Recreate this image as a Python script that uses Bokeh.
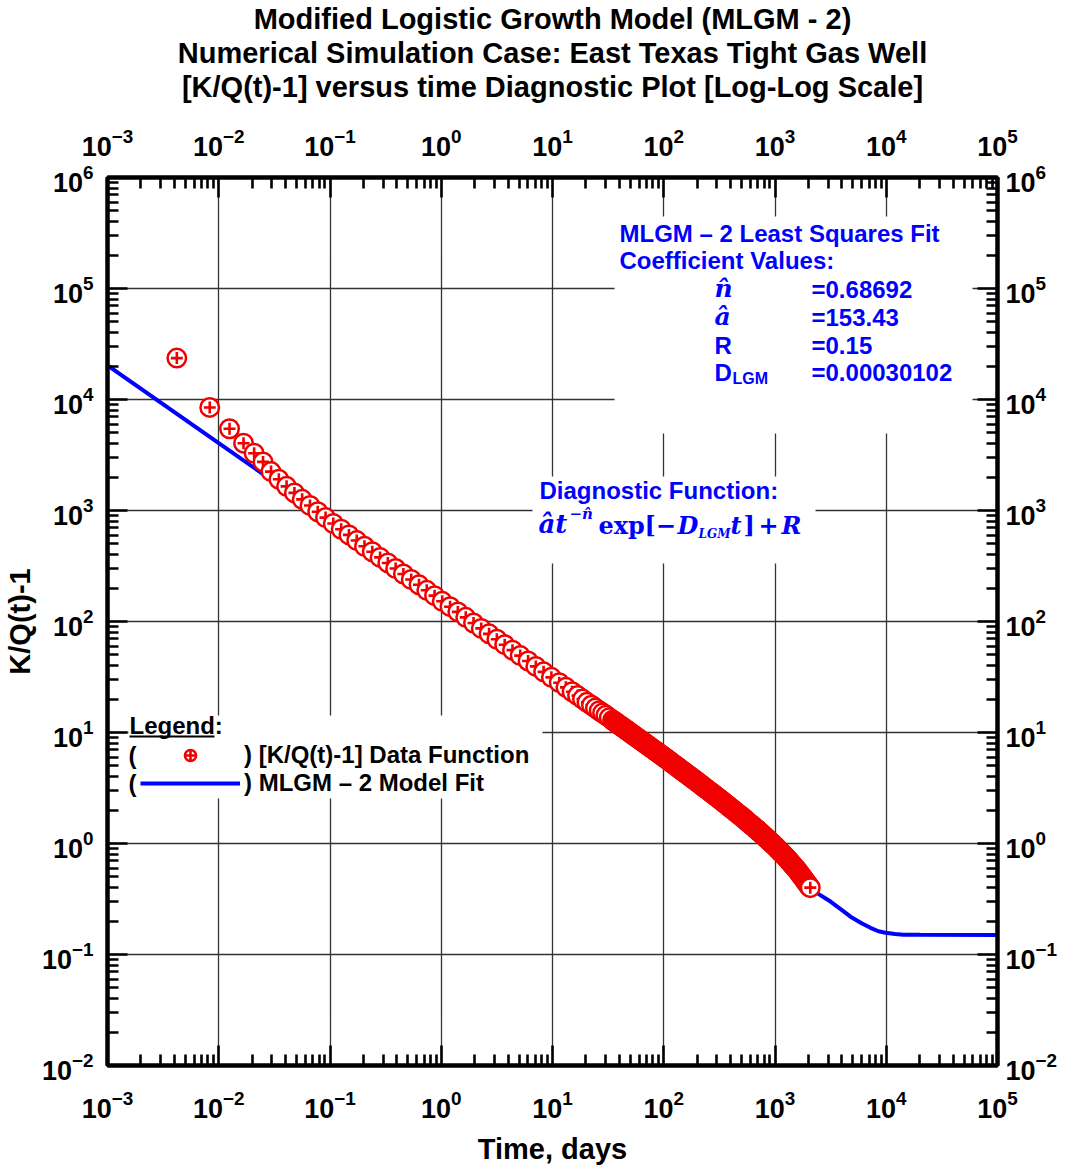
import numpy as np
from bokeh.plotting import figure
from bokeh.models import (Range1d, LogAxis, FixedTicker, Label, BoxAnnotation, Legend, LegendItem,
                          LogTickFormatter, Title)
from bokeh.embed import file_html
from bokeh.resources import INLINE

# ---------------- data ----------------
data_t = [0.0042, 0.0083, 0.0125, 0.0167, 0.0208, 0.025, 0.0295, 0.0347, 0.0407, 0.0479,
          0.0562, 0.0661, 0.0776, 0.0912, 0.107, 0.126, 0.148, 0.174, 0.204, 0.240,
          0.282, 0.331, 0.389, 0.457, 0.537, 0.631, 0.741, 0.871, 1.02, 1.20,
          1.41, 1.66, 1.95, 2.29, 2.69, 3.16, 3.72, 4.37, 5.13, 6.03,
          7.08, 8.32, 9.77, 11.5, 13.2, 15.0, 16.8, 18.6, 20.4, 22.4,
          24.3, 26.3, 28.2, 30.2, 32.4,
          34.7, 35.5, 36.3, 37.2, 38.0, 38.9, 39.8, 40.7, 41.7, 42.7,
          43.7, 44.7, 45.7, 46.8, 47.9, 49.0, 50.1, 51.3, 52.5, 53.7,
          55.0, 56.2, 57.5, 58.9, 60.3, 61.7, 63.1, 64.6, 66.1, 67.6,
          69.2, 70.8, 72.4, 74.1, 75.9, 77.6, 79.4, 81.3, 83.2, 85.1,
          87.1, 89.1, 91.2, 93.3, 95.5, 97.7,
          100, 102, 105, 107, 110, 112, 115, 117, 120, 123,
          126, 129, 132, 135, 138, 141, 145, 148, 151, 155,
          158, 162, 166, 170, 174, 178, 182, 186, 191, 195,
          200, 204, 209, 214, 219, 224, 229, 234, 240, 245,
          251, 257, 263, 269, 275, 282, 288, 295, 302, 309,
          316, 324, 331, 339, 347, 355, 363, 372, 380, 389,
          398, 407, 417, 427, 437, 447, 457, 468, 479, 490,
          501, 513, 525, 537, 550, 562, 575, 589, 603, 617,
          631, 646, 661, 676, 692, 708, 724, 741, 759, 776,
          794, 813, 832, 851, 871, 891, 912, 933, 955, 977,
          1000, 1023, 1047, 1072, 1096, 1122, 1148, 1175, 1202, 1230,
          1259, 1288, 1318, 1349, 1380, 1413, 1445, 1479, 1514, 1549,
          1585, 1622, 1660, 1698, 1738, 1778, 1820, 1862, 1905, 1950,
          1995, 2042, 2075]
data_y = [23600, 8480, 5450, 4040, 3280, 2740, 2240, 1910, 1650, 1440,
          1260, 1110, 975, 863, 764, 678, 603, 536, 476, 425,
          378, 337, 300, 268, 239, 214, 191, 171, 152, 136,
          122, 109, 97.0, 86.7, 77.4, 69.2, 61.8, 55.2, 49.3, 44.1,
          39.4, 35.2, 31.4, 28.1, 25.5, 23.3, 21.5, 20.0, 18.7, 17.6,
          16.6, 15.7, 15.0, 14.3, 13.6,
          12.9, 12.73, 12.5, 12.31, 12.1, 11.91, 11.7, 11.53, 11.3, 11.15,
          11.0, 10.78, 10.6, 10.43, 10.3, 10.09, 9.93, 9.76, 9.60, 9.45,
          9.29, 9.14, 8.99, 8.84, 8.70, 8.55, 8.41, 8.27, 8.14, 8.00,
          7.87, 7.74, 7.61, 7.49, 7.37, 7.24, 7.13, 7.01, 6.89, 6.78,
          6.67, 6.56, 6.45, 6.35, 6.24, 6.14,
          6.04, 5.93, 5.83, 5.73, 5.64, 5.54, 5.45, 5.35, 5.26, 5.17,
          5.08, 4.99, 4.91, 4.82, 4.74, 4.66, 4.58, 4.50, 4.43, 4.35,
          4.28, 4.20, 4.13, 4.06, 3.99, 3.92, 3.85, 3.79, 3.72, 3.66,
          3.60, 3.53, 3.47, 3.41, 3.35, 3.29, 3.23, 3.18, 3.12, 3.07,
          3.01, 2.96, 2.91, 2.86, 2.81, 2.76, 2.71, 2.66, 2.62, 2.57,
          2.52, 2.48, 2.43, 2.39, 2.34, 2.30, 2.26, 2.22, 2.18, 2.14,
          2.10, 2.06, 2.02, 1.99, 1.95, 1.91, 1.88, 1.84, 1.81, 1.78,
          1.75, 1.71, 1.68, 1.65, 1.61, 1.58, 1.55, 1.52, 1.49, 1.46,
          1.44, 1.41, 1.38, 1.35, 1.33, 1.30, 1.27, 1.25, 1.22, 1.20,
          1.17, 1.15, 1.12, 1.10, 1.08, 1.05, 1.03, 1.01, 0.988, 0.967,
          0.947, 0.925, 0.904, 0.882, 0.862, 0.842, 0.823, 0.803, 0.785, 0.766,
          0.749, 0.729, 0.710, 0.692, 0.674, 0.656, 0.639, 0.622, 0.606, 0.590,
          0.575, 0.557, 0.540, 0.523, 0.508, 0.492, 0.477, 0.462, 0.448, 0.434,
          0.421, 0.408, 0.400]

model_t = [0.001, 0.01, 0.1, 1, 10, 34.7, 100, 200, 316, 501, 692, 1000, 1259, 1585, 2075,
           2410, 3155, 4000, 4775, 6000, 7210, 8500, 9840, 12000, 14300, 20000, 100000]
model_y = [20300, 4040, 810, 155, 31.4, 12.9, 6.04, 3.60, 2.52, 1.75, 1.33, 0.947, 0.749, 0.575, 0.395,
           0.355, 0.300, 0.251, 0.219, 0.191, 0.174, 0.162, 0.157, 0.153, 0.151, 0.1503, 0.150]

x_exps = [-3, -2, -1, 0, 1, 2, 3, 4, 5]
y_exps = [-2, -1, 0, 1, 2, 3, 4, 5, 6]

title_lines = ["Modified Logistic Growth Model (MLGM - 2)",
               "Numerical Simulation Case: East Texas Tight Gas Well",
               "[K/Q(t)-1] versus time Diagnostic Plot [Log-Log Scale]"]
x_title = "Time, days"
y_title = "K/Q(t)-1"
coef_names = ["n\u0302", "\u00e2", "R", "D"]
coef_values = ["=0.68692", "=153.43", "=0.15", "=0.00030102"]

# ---------------- styling ----------------
SANS = "Liberation Sans"
SERIF = "DejaVu Serif"
RED = "#F00000"
BLUE = "#0000FF"
FL, FR, FT, FB = 107, 997, 177, 1065   # frame edges in canvas pixels
W, H = 1070, 1168

p = figure(frame_width=FR - FL, frame_height=FB - FT, x_axis_type="log", y_axis_type="log",
           x_range=Range1d(1e-3, 1e5), y_range=Range1d(1e-2, 1e6),
           min_border_left=FL, min_border_right=W - FR, min_border_top=FT, min_border_bottom=H - FB,
           output_backend="svg", toolbar_location=None)
p.background_fill_color = "white"
p.border_fill_color = "white"
p.outline_line_color = "black"
p.outline_line_width = 4

p.add_layout(LogAxis(), "above")
p.add_layout(LogAxis(), "right")

# three centred title lines, added from the one nearest the plot outward
for line in reversed(title_lines):
    p.add_layout(Title(text=line, align="center", text_font=SANS, text_font_size="29px",
                       text_font_style="bold", text_color="black", standoff=-0.5), "above")

xmaj = [10.0 ** e for e in x_exps]
ymaj = [10.0 ** e for e in y_exps]
xmin = [m * v for v in xmaj[:-1] for m in range(2, 10)]
ymin = [m * v for v in ymaj[:-1] for m in range(2, 10)]
xtick = FixedTicker(ticks=xmaj, minor_ticks=xmin)
ytick = FixedTicker(ticks=ymaj, minor_ticks=ymin)

for ax in p.above + p.below:
    if isinstance(ax, LogAxis):
        ax.ticker = xtick
for ax in p.left + p.right:
    ax.ticker = ytick
axes = [a for a in p.above + p.below + p.left + p.right if isinstance(a, LogAxis)]
for ax in axes:
    ax.formatter = LogTickFormatter()
    ax.axis_line_width = 4
    ax.axis_line_color = "black"
    ax.major_tick_in = 20
    ax.major_tick_out = 0
    ax.minor_tick_in = 11
    ax.minor_tick_out = 0
    ax.major_tick_line_width = 2.6
    ax.minor_tick_line_width = 2.6
    ax.major_tick_line_color = "black"
    ax.minor_tick_line_color = "black"
    ax.major_label_text_font = SANS
    ax.major_label_text_font_style = "bold"
    ax.major_label_text_font_size = "27px"
    ax.major_label_text_color = "black"
    ax.axis_label_text_font = SANS
    ax.axis_label_text_font_style = "bold"
    ax.axis_label_text_font_size = "29px"
    ax.axis_label_text_color = "black"

top_axis = [a for a in p.above if isinstance(a, LogAxis)][0]
p.below[0].major_label_standoff = 24
top_axis.major_label_standoff = 22
top_axis.axis_label = " "
top_axis.axis_label_text_font_size = "12px"
top_axis.axis_label_standoff = 5
p.left[0].major_label_standoff = 14
p.right[0].major_label_standoff = 8
p.below[0].axis_label = x_title
p.below[0].axis_label_standoff = 12
p.left[0].axis_label = y_title
p.left[0].axis_label_standoff = 3

p.xgrid.ticker = xtick
p.ygrid.ticker = ytick
p.grid.grid_line_color = "#333333"
p.grid.grid_line_width = 1.3

# ---------------- white boxes behind texts ----------------
def wbox(l, r, t, b, color="white", level="underlay"):
    p.add_layout(BoxAnnotation(left=l, right=r, top=t, bottom=b,
                               left_units="canvas", right_units="canvas",
                               top_units="canvas", bottom_units="canvas",
                               fill_color=color, fill_alpha=1, line_alpha=0, level=level))

wbox(614, 972, 216, 433)
wbox(532, 815, 476, 563)
wbox(128, 542, 715, 798)

# ---------------- glyphs ----------------
line_r = p.line(model_t, model_y, line_color=BLUE, line_width=4)

first = None
for ti, yi in zip(data_t, data_y):
    c = p.scatter([ti], [yi], marker="circle", size=18.5, fill_color="white",
                  line_color=RED, line_width=2.5)
    x = p.scatter([ti], [yi], marker="cross", size=12, line_color=RED, line_width=2.6)
    if first is None:
        first = (c, x)

# ---------------- in-plot texts (X, baseline Y in canvas pixels) ----------------
def lab(X, Y, text, size, color="black", font=SANS, style="bold", align="left"):
    ymid = Y - 0.347 * size
    p.add_layout(Label(x=X - FL, y=FB - ymid, x_units="screen", y_units="screen", text=text,
                       text_font=font, text_font_size=f"{size}px", text_font_style=style,
                       text_color=color, text_align=align, text_baseline="middle"))

# coefficient block
lab(619, 241, "MLGM \u2013 2 Least Squares Fit", 24, color=BLUE)
lab(619, 268, "Coefficient Values:", 24, color=BLUE)
rows = [297, 325, 353, 380]
for nm, val, yb in zip(coef_names, coef_values, rows):
    if nm in ("R", "D"):
        lab(714, yb, nm, 24, color=BLUE)
    else:
        lab(714, yb, nm, 25, color=BLUE, font=SERIF, style="bold italic")
    lab(811, yb, val, 24, color=BLUE)
lab(732, 384, "LGM", 16, color=BLUE)

# diagnostic function
lab(539, 498, "Diagnostic Function:", 24, color=BLUE)
FS = 24
lab(538, 533, "\u00e2t", 26, color=BLUE, font=SERIF, style="bold italic")
lab(569, 519, "\u2212n\u0302", 15, color=BLUE, font=SERIF, style="bold italic")
lab(598, 533, "exp", FS, color=BLUE, font=SERIF, style="bold")
lab(644, 533, "[\u2212", FS, color=BLUE, font=SERIF, style="bold")
lab(677, 533, "D", FS, color=BLUE, font=SERIF, style="bold italic")
lab(698, 538, "LGM", 12, color=BLUE, font=SERIF, style="bold italic")
lab(730, 533, "t", FS, color=BLUE, font=SERIF, style="bold italic")
lab(743, 533, "]", FS, color=BLUE, font=SERIF, style="bold")
lab(758, 533, "+", FS, color=BLUE, font=SERIF, style="bold")
lab(781, 533, "R", FS, color=BLUE, font=SERIF, style="bold italic")

# legend
lab(129, 733, "Legend:", 24)
wbox(129, 214, 735, 737, color="black", level="overlay")
lab(128, 763, "(", 24)
lab(128, 791, "(", 24)
legend = Legend(items=[LegendItem(label=") [K/Q(t)-1] Data Function", renderers=[first[0], first[1]]),
                       LegendItem(label=") MLGM \u2013 2 Model Fit", renderers=[line_r])],
                location=(140 - FL, FB - 797), orientation="vertical",
                glyph_width=100, glyph_height=28, label_height=28, label_standoff=4,
                spacing=0, padding=0, margin=0, border_line_alpha=0, background_fill_alpha=0,
                label_text_font=SANS, label_text_font_style="bold", label_text_font_size="24px",
                label_text_color="black")
p.add_layout(legend)

open("out.html", "w").write(file_html(p, INLINE))
